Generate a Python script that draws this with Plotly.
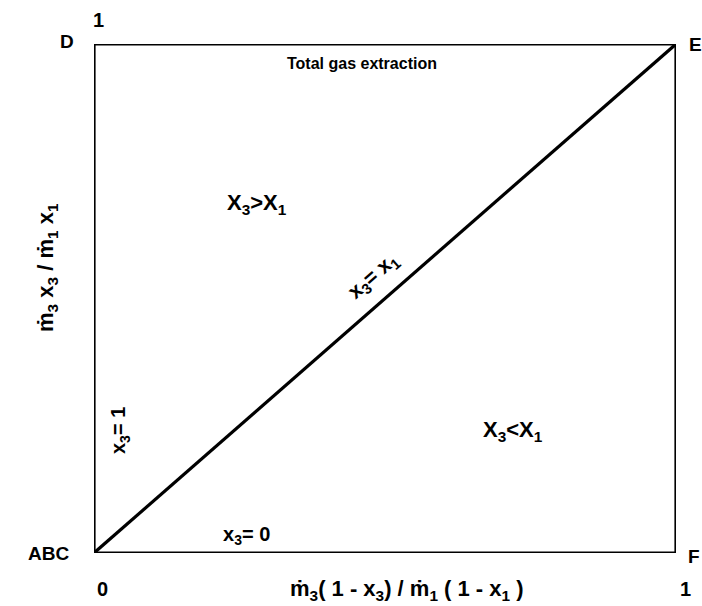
import plotly.graph_objects as go

# Diagonal: equal mole fraction line x3 = x1
diag_x = [0, 1]
diag_y = [0, 1]

# Axis end labels
x_tick_vals = [0, 1]
x_tick_text = ["0", "1"]
y_tick_vals = [1]
y_tick_text = ["1"]

# Corner labels (data coordinates)
corner_text = ["D", "E", "ABC", "F"]
corner_x = [0, 1, 0, 1]
corner_y = [1, 1, 0, 0]

FONT = "Liberation Sans, Arial, sans-serif"
BLACK = "#000000"

fig = go.Figure()

fig.add_trace(go.Scatter(
    x=diag_x, y=diag_y, mode="lines",
    line=dict(color=BLACK, width=3.2), hoverinfo="skip", showlegend=False,
))

# Frame of the diagram
fig.add_shape(type="rect", xref="x", yref="y", x0=0, y0=0, x1=1, y1=1,
              line=dict(color=BLACK, width=3.2), fillcolor="rgba(0,0,0,0)")

ann = []

def label(text, x, y, size, xshift=0, yshift=0, angle=0, xanchor="center", yanchor="middle"):
    ann.append(dict(
        text=text, x=x, y=y, xref="x", yref="y", showarrow=False,
        xshift=xshift, yshift=yshift, textangle=angle,
        xanchor=xanchor, yanchor=yanchor,
        font=dict(family=FONT, size=size, color=BLACK, weight="bold"),
    ))

# Corner letters
corner_shift = {"D": (-27, 3), "E": (19, 0), "ABC": (-46, 0), "F": (18, -3)}
for t, cx, cy in zip(corner_text, corner_x, corner_y):
    dx, dy = corner_shift[t]
    label(t, cx, cy, 19, xshift=dx, yshift=dy)

# Axis end values
for v, t in zip(x_tick_vals, x_tick_text):
    label(t, v, 0, 20, xshift=8 if v == 0 else 9, yshift=-36)
for v, t in zip(y_tick_vals, y_tick_text):
    label(t, 0, v, 20, xshift=4, yshift=24)

# Region annotations
label("Total gas extraction", 0.46, 1, 16, yshift=-19)
label("X<sub>3</sub>&gt;X<sub>1</sub>", 0.28, 0.685, 22)
label("X<sub>3</sub>&lt;X<sub>1</sub>", 0.72, 0.24, 22)
label("x<sub>3</sub>= x<sub>1</sub>", 0.48, 0.545, 21, angle=-41)
label("x<sub>3</sub>= 1", 0.045, 0.24, 20, angle=-90)
label("x<sub>3</sub>= 0", 0.262, 0.035, 20)

# Axis titles
label("ṁ<sub>3</sub>( 1 - x<sub>3</sub>) / ṁ<sub>1</sub> ( 1 - x<sub>1</sub> )", 0.537, 0, 22, yshift=-37)
label("ṁ<sub>3</sub> x<sub>3</sub> / ṁ<sub>1</sub> x<sub>1</sub>", 0, 0.56, 22, xshift=-47, angle=-90)

fig.update_layout(
    width=702, height=606,
    margin=dict(l=94, r=26, t=44, b=53),
    paper_bgcolor="white", plot_bgcolor="white",
    annotations=ann,
    xaxis=dict(range=[0, 1], visible=False, fixedrange=True),
    yaxis=dict(range=[0, 1], visible=False, fixedrange=True),
    showlegend=False,
)

fig.write_html("out.html")
